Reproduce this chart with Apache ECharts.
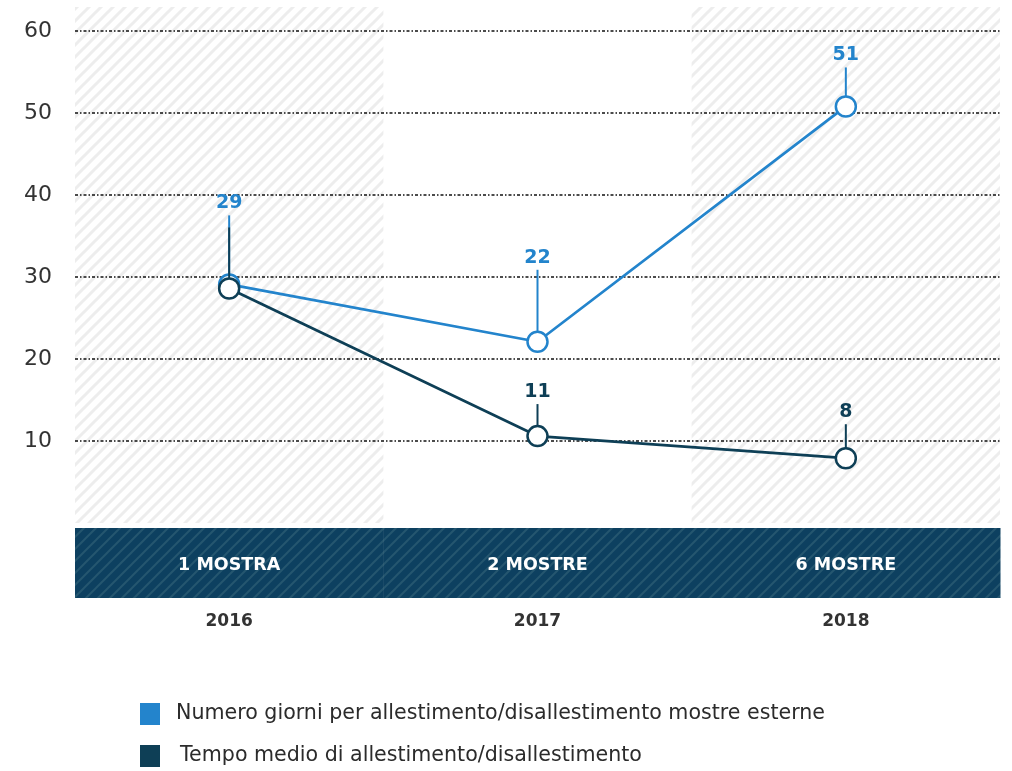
<!DOCTYPE html>
<html>
<head>
<meta charset="utf-8">
<script src="https://cdn.jsdelivr.net/npm/echarts@6/dist/echarts.min.js"></script>
<style>
html,body{margin:0;padding:0;background:#fff;}
#chart{width:1012px;height:771px;}
</style>
</head>
<body>
<div id="chart"></div>
<script>
// ---- data ----
const categories = ['2016', '2017', '2018'];
const exhibitions = ['1 MOSTRA', '2 MOSTRE', '6 MOSTRE'];
const seriesNames = ['Numero giorni per allestimento/disallestimento mostre esterne', 'Tempo medio di allestimento/disallestimento'];
const giorniMostre = [29.1, 22.1, 50.8];
const tempoMedio = [28.6, 10.6, 7.9];
const giorniLabels = ['29', '22', '51'];
const tempoLabels = [null, '11', '8'];
const yMin = 0, yMax = 60, yInterval = 10;

// ---- style ----
const BLUE = '#2384cc';
const DARK = '#0e3f56';
const FONT = '"DejaVu Sans", sans-serif';
const giorniLeader = [81, 84, 51];
const tempoLeader = [73, 44, 46];

function hatch(bg, fg, size, w) {
  const c = document.createElement('canvas');
  c.width = size; c.height = size;
  const ctx = c.getContext('2d');
  ctx.fillStyle = bg; ctx.fillRect(0, 0, size, size);
  ctx.strokeStyle = fg; ctx.lineWidth = w;
  ctx.beginPath();
  ctx.moveTo(-1, size + 1); ctx.lineTo(size + 1, -1);
  ctx.moveTo(-size / 2 - 1, size / 2 + 1); ctx.lineTo(size / 2 + 1, -size / 2 - 1);
  ctx.moveTo(size / 2 - 1, size * 1.5 + 1); ctx.lineTo(size * 1.5 + 1, size / 2 - 1);
  ctx.stroke();
  return c;
}
const lightHatch = { image: hatch('#ffffff', '#ededed', 12, 3), repeat: 'repeat' };
const darkHatch = { image: hatch('#0d4060', '#25566f', 12, 2), repeat: 'repeat' };

function bandRender(params, api) {
  const i = api.value(0);
  const p0 = api.coord([i, yMin]);
  const pTop = api.coord([i, yMax]);
  const bw = api.size([1, 0])[0];
  const children = [];
  if (i % 2 === 0) {
    children.push({ type: 'rect', shape: { x: p0[0] - bw / 2, y: pTop[1] - 24, width: bw, height: p0[1] - pTop[1] + 24 }, style: { fill: lightHatch } });
  }
  children.push({ type: 'rect', shape: { x: p0[0] - bw / 2, y: p0[1] + 5, width: bw + 0.5, height: 70 }, style: { fill: darkHatch } });
  return { type: 'group', children };
}

function leaderRender(color, offs, labels) {
  return function (params, api) {
    const i = api.value(0), v = api.value(1);
    const p = api.coord([i, v]);
    const off = offs[params.dataIndex];
    const children = [{ type: 'line', shape: { x1: p[0], y1: p[1] - 10, x2: p[0], y2: p[1] - off + 12 }, style: { stroke: color, lineWidth: 2 } }];
    const lab = labels[params.dataIndex];
    if (lab != null) {
      children.push({ type: 'text', x: p[0], y: p[1] - off, style: { text: lab, fill: color, font: 'bold 19px ' + FONT, align: 'center', verticalAlign: 'middle' } });
    }
    return { type: 'group', children };
  };
}

const legendBase = {
  orient: 'horizontal', left: 140, itemWidth: 20, itemHeight: 22, padding: 0,
  icon: 'rect', selectedMode: false
};

const chart = echarts.init(document.getElementById('chart'), null, { renderer: 'canvas' });
chart.setOption({
  animation: false,
  backgroundColor: '#ffffff',
  grid: { left: 75, right: 12, top: 31, bottom: 248, containLabel: false },
  legend: [
    Object.assign({}, legendBase, {
      top: 703,
      textStyle: { fontFamily: FONT, fontSize: 20.6, color: '#2b2b2b', padding: [0, 0, 0, 11] },
      data: [{ name: seriesNames[0], itemStyle: { color: BLUE, borderWidth: 0 } }]
    }),
    Object.assign({}, legendBase, {
      top: 745,
      textStyle: { fontFamily: FONT, fontSize: 20.6, color: '#2b2b2b', padding: [0, 0, 0, 15] },
      data: [{ name: seriesNames[1], itemStyle: { color: DARK, borderWidth: 0 } }]
    })
  ],
  xAxis: [
    {
      type: 'category', data: categories, position: 'bottom', boundaryGap: true,
      axisLine: { show: false }, axisTick: { show: false }, splitLine: { show: false },
      axisLabel: { margin: 90, color: '#333', fontFamily: FONT, fontWeight: 'bold', fontSize: 17 }
    },
    {
      type: 'category', data: exhibitions, position: 'bottom', boundaryGap: true,
      axisLine: { show: false }, axisTick: { show: false }, splitLine: { show: false },
      axisLabel: { margin: 33, color: '#ffffff', fontFamily: FONT, fontWeight: 'bold', fontSize: 17.5 }
    }
  ],
  yAxis: {
    type: 'value', min: yMin, max: yMax, interval: yInterval,
    axisLine: { show: false }, axisTick: { show: false },
    axisLabel: { margin: 23, color: '#333', fontFamily: FONT, fontSize: 22, formatter: v => v === 0 ? '' : String(v) },
    splitLine: { show: true, showMinLine: false, lineStyle: { color: '#111', width: 1.6, type: [3, 2, 1.5, 2] } }
  },
  series: [
    {
      type: 'custom', name: 'bands', z: -1, silent: true, renderItem: bandRender,
      data: categories.map((c, i) => [i, 0])
    },
    {
      type: 'line', name: seriesNames[0], data: giorniMostre, z: 3,
      symbol: 'circle', symbolSize: 20,
      lineStyle: { color: BLUE, width: 2.7 },
      itemStyle: { color: '#ffffff', borderColor: BLUE, borderWidth: 2.5 }
    },
    {
      type: 'line', name: seriesNames[1], data: tempoMedio, z: 4,
      symbol: 'circle', symbolSize: 20,
      lineStyle: { color: DARK, width: 2.7 },
      itemStyle: { color: '#ffffff', borderColor: DARK, borderWidth: 2.5 }
    },
    {
      type: 'custom', name: 'giorniLeader', z: 5, silent: true, renderItem: leaderRender(BLUE, giorniLeader, giorniLabels),
      data: giorniMostre.map((v, i) => [i, v])
    },
    {
      type: 'custom', name: 'tempoLeader', z: 5, silent: true, renderItem: leaderRender(DARK, tempoLeader, tempoLabels),
      data: tempoMedio.map((v, i) => [i, v])
    }
  ]
});
</script>
</body>
</html>
